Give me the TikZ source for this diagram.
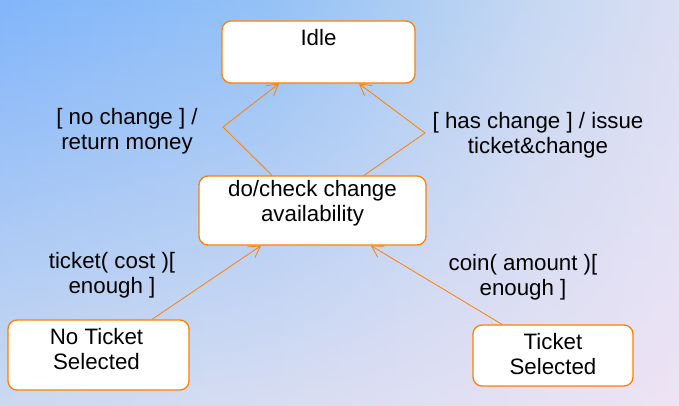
\documentclass[tikz,border=0pt]{standalone}
\usepackage{fontspec}
\setmainfont{Liberation Sans}
\usetikzlibrary{arrows.meta,fadings}
\definecolor{umlorange}{RGB}{255,128,0}
\definecolor{bgbottom}{RGB}{212,222,240}
\definecolor{bgbotright}{RGB}{240,228,245}
\pgfdeclarehorizontalshading{bgshade}{100bp}{rgb(0bp)=(0.42,0.65,1);
  rgb(45bp)=(0.58,0.76,0.97); rgb(65bp)=(0.78,0.85,0.95); rgb(82bp)=(0.91,0.89,0.96);
  rgb(100bp)=(0.97,0.9,0.97)}
\tikzfading[name=fadetop, top color=transparent!100, middle color=transparent!65, bottom color=transparent!10]

\begin{document}
\begin{tikzpicture}[x=1pt,y=-1pt,
  every node/.style={font=\fontsize{22.3}{25}\selectfont},
  stbox/.style={draw=umlorange,line width=1.3pt,fill=white,rounded corners=9pt,inner sep=0pt},
  lbl/.style={align=center,inner sep=0pt},
  tr/.style={-{Straight Barb[length=11pt,width=13pt]},draw=umlorange,line width=0.8pt}]
\useasboundingbox (0,0) rectangle (679,406);
% background
\shade[shading=bgshade] (0,0) rectangle (679,406);
\shade[left color=bgbottom,middle color=bgbottom,right color=bgbotright,path fading=fadetop]
  (0,0) rectangle (679,406);
% states
\node[stbox,minimum width=193pt,minimum height=62pt] (idle) at (318.5,52) {};
\node[stbox,minimum width=227pt,minimum height=69pt] (check) at (312.5,210.5) {};
\node[stbox,minimum width=181pt,minimum height=70pt] (noticket) at (98.5,355) {};
\node[stbox,minimum width=160pt,minimum height=61pt] (ticket) at (553,355.5) {};
\node[lbl] (idletxt) at ([yshift=14pt]idle.center) {Idle};
\node[lbl] (checktxt) at ([yshift=7pt]check.center) {do/check change\\availability};
\node[lbl] (noticketxt) at ([xshift=-2pt,yshift=5.5pt]noticket.center) {No Ticket\\Selected};
\node[lbl] (tickettxt) at ([yshift=1.5pt]ticket.center) {Ticket\\Selected};
% transitions
\coordinate (bendL) at (223,127);
\coordinate (bendR) at (425,133);
\draw[tr] ([xshift=-40.5pt]check.north) -- (bendL) -- ([xshift=-39.5pt]idle.south);
\draw[tr] ([xshift=51.5pt]check.north) -- (bendR) -- ([xshift=40.5pt]idle.south);
\draw[tr] ([xshift=53.5pt]noticket.north) -- ([xshift=-51.5pt]check.south);
\draw[tr] ([xshift=-51pt]ticket.north) -- ([xshift=58.5pt]check.south);
% guards
\node[lbl] (nochange) at (127,131) {[ no change ] /\\return money};
\node[lbl] (haschange) at (538,135) {[ has change ] / issue\\ticket\&change};
\node[lbl] (cost) at (112,275) {ticket( cost )[\\enough ]};
\node[lbl] (coin) at (523,277) {coin( amount )[\\enough ]};
\end{tikzpicture}
\end{document}
